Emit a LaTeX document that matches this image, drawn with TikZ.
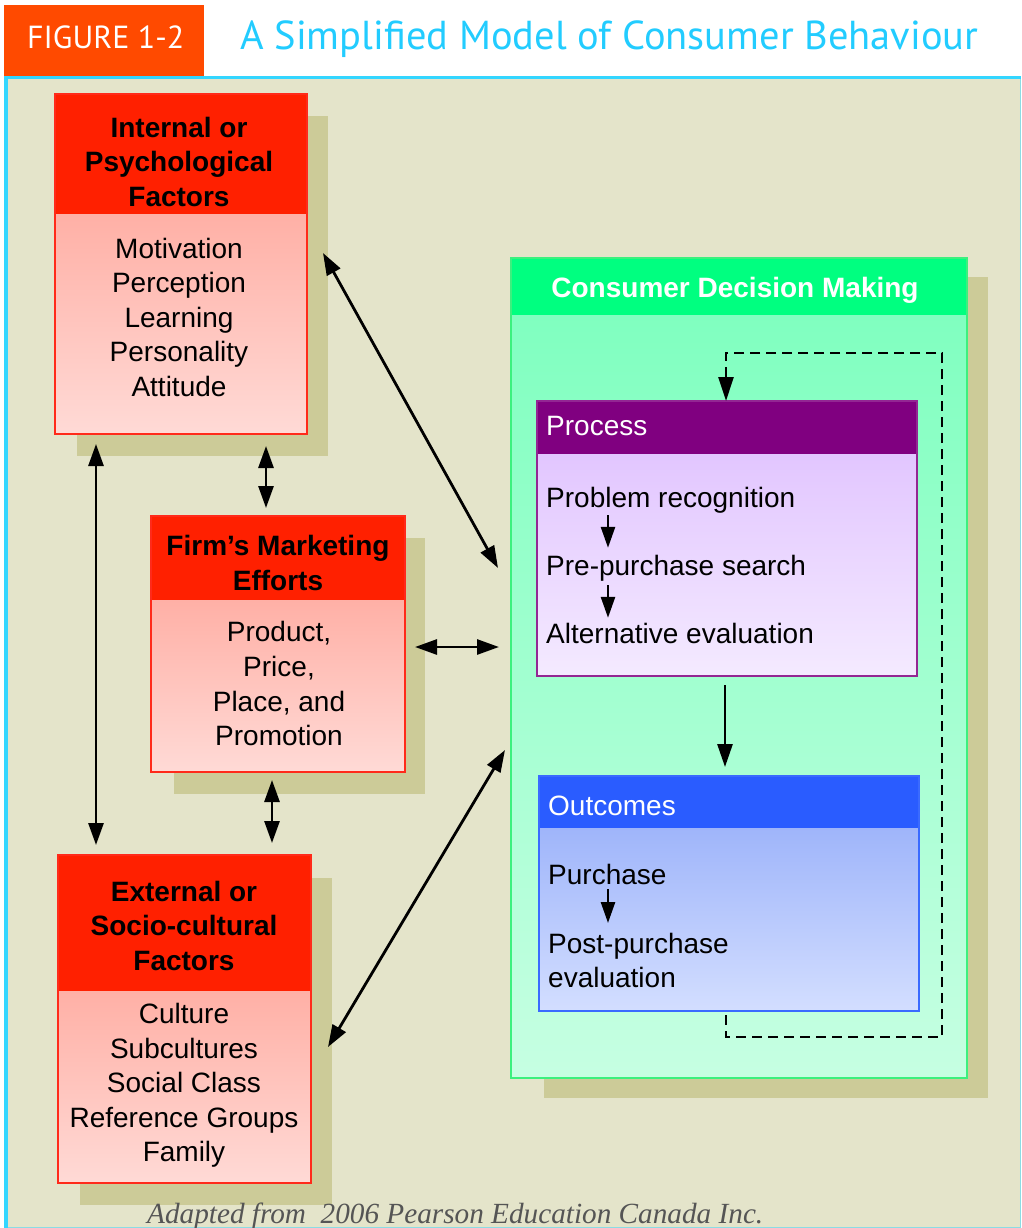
\documentclass[tikz,border=0pt]{standalone}
\usepackage{fontspec}
\setmainfont{Liberation Sans}
\newfontfamily\titlefont{PT Sans}
\newfontfamily\footfont{Liberation Serif}
\usetikzlibrary{arrows.meta,calc}
\definecolor{beige}{HTML}{E4E4CA}
\definecolor{shadowc}{HTML}{CCCB98}
\definecolor{hred}{HTML}{FF2000}
\definecolor{pinkT}{HTML}{FFB0A6}
\definecolor{pinkB}{HTML}{FFDAD6}
\definecolor{redB}{HTML}{FF2A1A}
\definecolor{hgreen}{HTML}{00FF80}
\definecolor{greenT}{HTML}{80FFC0}
\definecolor{greenB}{HTML}{C6FFE2}
\definecolor{greenBd}{HTML}{3CF07E}
\definecolor{hpurple}{HTML}{800080}
\definecolor{lavT}{HTML}{E2C6FF}
\definecolor{lavB}{HTML}{F4EAFF}
\definecolor{hblue}{HTML}{2A5CFF}
\definecolor{bluT}{HTML}{9FB5FA}
\definecolor{bluB}{HTML}{D3DEFF}
\definecolor{blueBd}{HTML}{3A6AFF}
\definecolor{horange}{HTML}{FF4A00}
\definecolor{cyanT}{HTML}{22CCFF}
\definecolor{cyanF}{HTML}{33D6FF}
\definecolor{footgray}{HTML}{555555}
\newcommand\ls{\rule[-0.25em]{0pt}{1.05em}}
\begin{document}
\begin{tikzpicture}[x=1pt,y=-1pt,
  boxpart/.style={rectangle, anchor=north west, inner sep=0pt, outer sep=0pt, draw=none},
  btxt/.style={font=\bfseries\fontsize{28}{34.6}\selectfont, align=center, inner sep=0pt},
  rtxt/.style={font=\fontsize{28}{34.6}\selectfont, align=center, inner sep=0pt},
  ltxt/.style={font=\fontsize{28}{34.6}\selectfont, align=left, inner sep=0pt, anchor=west},
  arr/.style={-{Triangle[length=23pt,width=15pt]}, line width=2.8pt},
  sarr/.style={-{Triangle[length=21pt,width=14pt]}, line width=2.6pt},
  dbl/.style={{Triangle[length=22pt,width=15pt]}-{Triangle[length=22pt,width=15pt]}, line width=2.8pt},
  dsh/.style={dash pattern=on 10pt off 6pt, line width=2.6pt, -{Triangle[length=24pt,width=15pt]}}]
\useasboundingbox (0,0) rectangle (1021,1228);
% background and frame
\fill[white] (0,0) rectangle (1021,1228);
\fill[beige] (6,78) rectangle (1021,1228);
\draw[cyanF, line width=1.5pt, opacity=0.5] (1020.25,78) -- (1020.25,1227.25) -- (6,1227.25);
\draw[cyanF, line width=3.5pt] (6,1228) -- (6,77.5) -- (1021,77.5);
\fill[horange] (4,5) rectangle (204,76);
\node[anchor=base west, inner sep=0pt, text=white] (fig) at (27,49) {\resizebox{157pt}{!}{\titlefont FIGURE 1-2}};
\node[anchor=base west, inner sep=0pt, text=cyanT] (title) at (240,50) {\resizebox{738pt}{!}{\titlefont A Simplified Model of Consumer Behaviour}};
% shadows
\fill[shadowc] (77,116) rectangle (328,456);
\fill[shadowc] (174,538) rectangle (425,794);
\fill[shadowc] (80,878) rectangle (332,1205);
\fill[shadowc] (544,277) rectangle (988,1098);
% Internal box
\node[boxpart, fill=hred, minimum width=252pt, minimum height=120pt] (ih) at (55,94) {};
\node[boxpart, top color=pinkT, bottom color=pinkB, minimum width=252pt, minimum height=220pt] (ib) at (55,214) {};
\draw[redB, line width=2pt] (ih.north west) rectangle (ib.south east);
\node[btxt] (iht) at (179,164) {\ls Internal or\\\ls Psychological\\\ls Factors};
\node[rtxt] (ibt) at (179,319.5) {\ls Motivation\\\ls Perception\\\ls Learning\\\ls Personality\\\ls Attitude};
% Firm's box
\node[boxpart, fill=hred, minimum width=254pt, minimum height=84pt] (fh) at (151,516) {};
\node[boxpart, top color=pinkT, bottom color=pinkB, minimum width=254pt, minimum height=172pt] (fb) at (151,600) {};
\draw[redB, line width=2pt] (fh.north west) rectangle (fb.south east);
\node[btxt] (fht) at (278,565.5) {\ls Firm’s Marketing\\\ls Efforts};
\node[rtxt] (fbt) at (279,686) {\ls Product,\\\ls Price,\\\ls Place, and\\\ls Promotion};
% External box
\node[boxpart, fill=hred, minimum width=253pt, minimum height=136pt] (eh) at (58,855) {};
\node[boxpart, top color=pinkT, bottom color=pinkB, minimum width=253pt, minimum height=192pt] (eb) at (58,991) {};
\draw[redB, line width=2pt] (eh.north west) rectangle (eb.south east);
\node[btxt] (eht) at (184,928) {\ls External or\\\ls Socio-cultural\\\ls Factors};
\node[rtxt] (ebt) at (184,1085) {\ls Culture\\\ls Subcultures\\\ls Social Class\\\ls Reference Groups\\\ls Family};
% Consumer Decision Making
\node[boxpart, fill=hgreen, minimum width=456pt, minimum height=57pt] (ch) at (511,258) {};
\node[boxpart, top color=greenT, bottom color=greenB, minimum width=456pt, minimum height=763pt] (cb) at (511,315) {};
\draw[greenBd, line width=2pt] (ch.north west) rectangle (cb.south east);
\node[btxt, text=white] (cht) at (735,290) {\ls Consumer Decision Making};
% Process
\node[boxpart, fill=hpurple, minimum width=380pt, minimum height=53pt] (ph) at (537,401) {};
\node[boxpart, top color=lavT, bottom color=lavB, minimum width=380pt, minimum height=222pt] (pb) at (537,454) {};
\draw[hpurple!85, line width=2pt] (ph.north west) rectangle (pb.south east);
\node[ltxt, text=white] (pht) at (546,428) {\ls Process};
\node[ltxt] (pr) at (546,499.3) {\ls Problem recognition};
\node[ltxt] (ps) at (546,567.3) {\ls Pre-purchase search};
\node[ltxt] (ae) at (546,635.3) {\ls Alternative evaluation};
% Outcomes
\node[boxpart, fill=hblue, minimum width=380pt, minimum height=52pt] (oh) at (539,776) {};
\node[boxpart, top color=bluT, bottom color=bluB, minimum width=380pt, minimum height=183pt] (ob) at (539,828) {};
\draw[blueBd, line width=2pt] (oh.north west) rectangle (ob.south east);
\node[ltxt, text=white] (oht) at (548,808) {\ls Outcomes};
\node[ltxt] (pu) at (548,876.3) {\ls Purchase};
\node[ltxt] (pp) at (548,962.8) {\ls Post-purchase\\\ls evaluation};
% inner arrows
\coordinate (ax) at (608,0);
\coordinate (mx) at (725,0);
\draw[sarr] ($(pr.south -| ax)+(0,1)$) -- ($(ps.north -| ax)+(0,-4.6)$);
\draw[sarr] ($(ps.south -| ax)+(0,3)$) -- ($(ae.north -| ax)+(0,-2.6)$);
\draw[sarr] ($(pu.south -| ax)+(0,-2)$) -- ($(pp.north -| ax)+(0,-7.6)$);
\draw[arr] ($(pb.south -| mx)+(0,9)$) -- ($(oh.north -| mx)+(0,-9)$);
\draw[dsh] ($(ob.south)+(-3,4)$) -- ++(0,22) -- ++(216,0) -- ++(0,-684) -| ($(ph.north)+(-1,0)$);
% connectors between factors and decision making
\draw[dbl] ($(ib.south west)+(41,10)$) -- ($(eh.north west)+(38,-10)$);
\draw[dbl] ($(ib.south west)+(211,12)$) -- ($(fh.north west)+(115,-8)$);
\draw[dbl] ($(fb.south west)+(121,8)$) -- ($(eh.north west)+(214,-12)$);
\draw[dbl] ($(ib.north east)+(16,39)$) -- ($(cb.north west)+(-13,253)$);
\draw[dbl] ($(fh.north east)+(10,131)$) -- ($(cb.north west)+(-12,332)$);
\draw[dbl] ($(cb.north west)+(-6,435)$) -- ($(eb.north east)+(17,56)$);
% footer
\node[anchor=base west, inner sep=0pt, text=footgray] (foot) at (147,1223) {\resizebox{616pt}{!}{\footfont\itshape Adapted from\ \ 2006 Pearson Education Canada Inc.}};
\end{tikzpicture}
\end{document}
